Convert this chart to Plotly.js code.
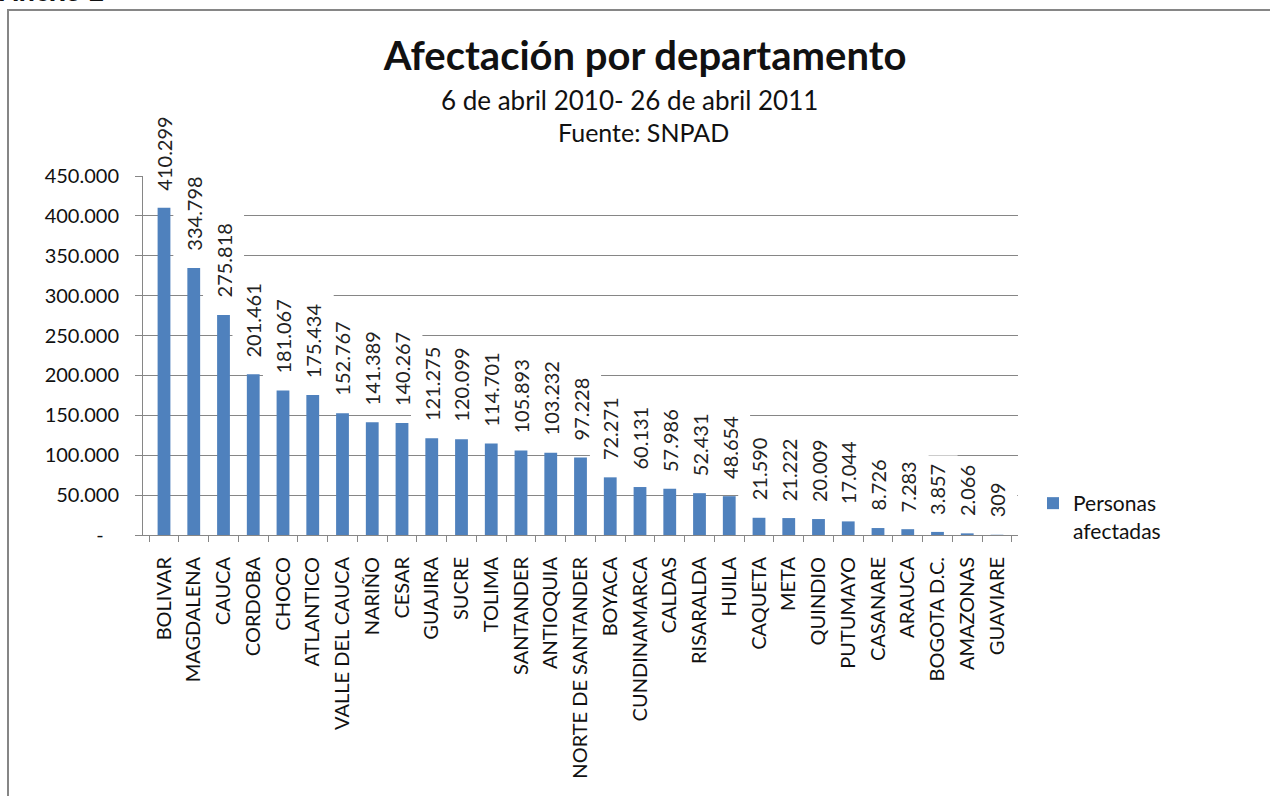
<!DOCTYPE html>
<html>
<head>
<meta charset="utf-8">
<script src="https://cdn.plot.ly/plotly-3.0.1.min.js"></script>
<style>
html,body{margin:0;padding:0;background:#fff;}
#chart{width:1270px;height:796px;}
</style>
</head>
<body>
<div id="chart"></div>
<script>
const departamentos = ["BOLIVAR","MAGDALENA","CAUCA","CORDOBA","CHOCO","ATLANTICO","VALLE DEL CAUCA","NARIÑO","CESAR","GUAJIRA","SUCRE","TOLIMA","SANTANDER","ANTIOQUIA","NORTE DE SANTANDER","BOYACA","CUNDINAMARCA","CALDAS","RISARALDA","HUILA","CAQUETA","META","QUINDIO","PUTUMAYO","CASANARE","ARAUCA","BOGOTA D.C.","AMAZONAS","GUAVIARE"];
const personasAfectadas = [410299,334798,275818,201461,181067,175434,152767,141389,140267,121275,120099,114701,105893,103232,97228,72271,60131,57986,52431,48654,21590,21222,20009,17044,8726,7283,3857,2066,309];
const yTickVals = [0,50000,100000,150000,200000,250000,300000,350000,400000,450000];
const yTickText = ["-\u00a0\u00a0\u00a0","50.000","100.000","150.000","200.000","250.000","300.000","350.000","400.000","450.000"];
const seriesName = "Personas<br>afectadas";
const titulo = "Afectación por departamento";
const subtitulo1 = "6 de abril 2010- 26 de abril 2011";
const subtitulo2 = "Fuente: SNPAD";
const anexo = "Anexo 2";

function fmt(v){ return String(v).replace(/\B(?=(\d{3})+(?!\d))/g, "."); }

const FONT = "Lato, 'Open Sans', sans-serif";
const GRID = "#868686";

const labelAnnotations = departamentos.map((d,i)=>({
  x: d, y: personasAfectadas[i], xref:"x", yref:"y",
  text: fmt(personasAfectadas[i]), textangle:-90, showarrow:false,
  xanchor:"center", yanchor:"bottom", yshift:8,
  bgcolor:"#ffffff", borderpad:8,
  font:{family:FONT, size:20, color:"#222"}
}));

const data = [{
  type:"bar", x:departamentos, y:personasAfectadas, name:seriesName,
  marker:{color:"#4F81BD"}, showlegend:true, hoverinfo:"x+y"
}];

const layout = {
  width:1270, height:796,
  paper_bgcolor:"#fff", plot_bgcolor:"#fff",
  margin:{l:143, r:252, t:176, b:261},
  bargap:0.57,
  font:{family:FONT, size:20, color:"#111"},
  separators:",.",
  title:{text:titulo, x:(645-143)/875, xref:"paper", xanchor:"center", y:1-56/796, yanchor:"middle",
         font:{family:FONT, size:40, color:"#111", weight:"bold"}},
  xaxis:{type:"category", tickangle:-90, showgrid:false, showline:true, linecolor:GRID, linewidth:1,
         ticks:"outside", ticklen:6, tickcolor:GRID, tickson:"boundaries",
         tickfont:{family:FONT, size:20, color:"#111"}, ticklabelstandoff:13, automargin:false},
  yaxis:{range:[0,450000], tickvals:yTickVals, ticktext:yTickText, showgrid:true, gridcolor:GRID, gridwidth:1,
         showline:true, linecolor:GRID, linewidth:1, ticks:"outside", ticklen:7, tickcolor:GRID,
         tickfont:{family:FONT, size:20, color:"#111"}, zeroline:false, automargin:false, ticklabelstandoff:12},
  legend:{x:(1033-143)/875, xanchor:"left", y:(535-483)/359, yanchor:"top", valign:"top",
          font:{family:FONT, size:21, color:"#111"}, bgcolor:"rgba(0,0,0,0)"},
  shapes:[{type:"rect", xref:"paper", yref:"paper",
           x0:(8-143)/875, x1:(1280-143)/875, y0:(535-810)/359, y1:(535-10)/359,
           line:{color:GRID, width:2}, fillcolor:"rgba(0,0,0,0)", layer:"below"}],
  annotations:[
    {text:subtitulo1, xref:"paper", yref:"paper", x:(629-143)/875, y:(535-100)/359, xanchor:"center", yanchor:"middle",
     showarrow:false, font:{family:FONT, size:26, color:"#111"}},
    {text:subtitulo2, xref:"paper", yref:"paper", x:(643-143)/875, y:(535-132)/359, xanchor:"center", yanchor:"middle",
     showarrow:false, font:{family:FONT, size:25, color:"#111"}},
    {text:anexo, xref:"paper", yref:"paper", x:(-3-143)/875, y:(535-9.5)/359, xanchor:"left", yanchor:"bottom",
     showarrow:false, font:{family:"Liberation Sans, Arial, sans-serif", size:27, color:"#111", weight:"bold"}}
  ].concat(labelAnnotations)
};

Plotly.newPlot("chart", data, layout, {displayModeBar:false, staticPlot:true});
</script>
</body>
</html>
